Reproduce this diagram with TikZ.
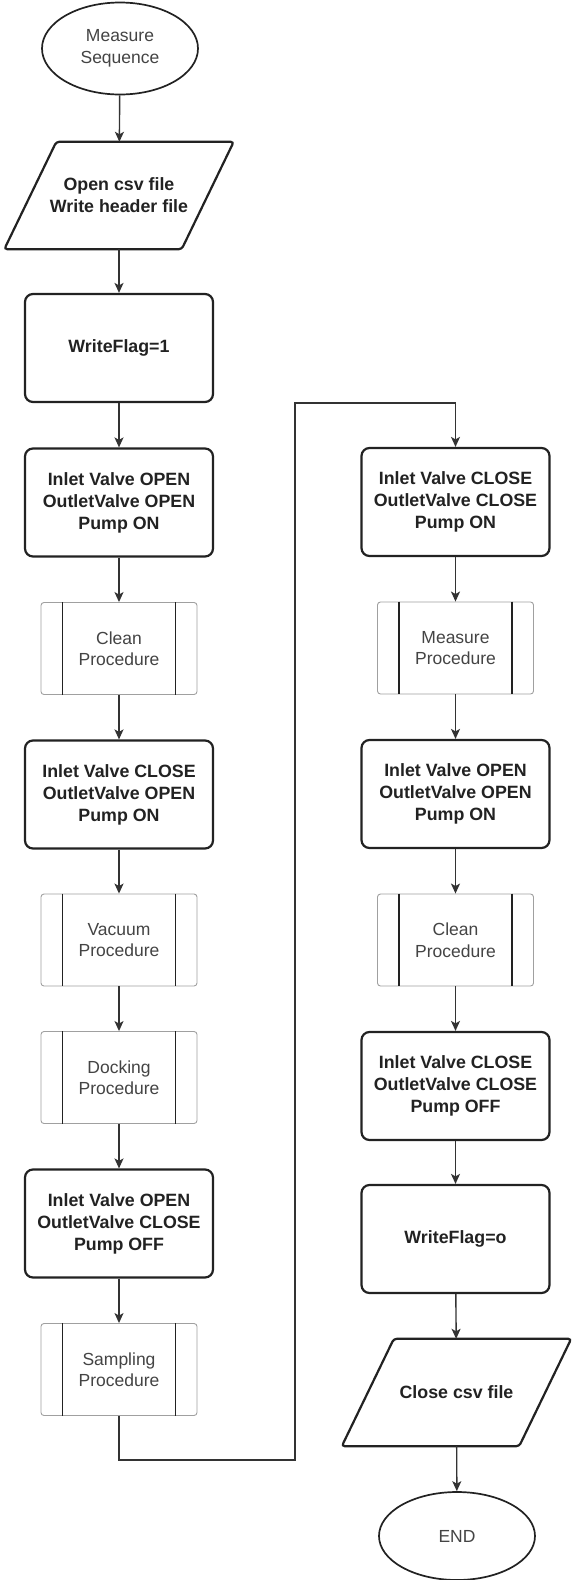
\documentclass[tikz,border=0pt]{standalone}
\usepackage{fontspec}
\setmainfont{Liberation Sans}
\usetikzlibrary{shapes.geometric,arrows.meta,calc}
\definecolor{ink}{HTML}{222222}
\definecolor{lineg}{HTML}{333333}
\definecolor{subg}{HTML}{A0A0A0}
\definecolor{subtxt}{HTML}{444444}
\newcommand\subedges[1]{%
  \draw[subline] ($(#1.north west)+(22,0)$) -- ($(#1.south west)+(22,0)$);
  \draw[subline] ($(#1.north east)+(-22,0)$) -- ($(#1.south east)+(-22,0)$);}
\newcommand\ioshape[1]{%
  \draw[ioline] ($(#1.north west)+(26,0)$) -- ($(#1.north east)+(26,0)$) -- ($(#1.south east)+(-26,0)$) -- ($(#1.south west)+(-26,0)$) -- cycle;}
\begin{document}
\begin{tikzpicture}[x=1pt,y=-1pt,
  every node/.style={font=\fontsize{17.5}{21.5}\selectfont, align=center, inner sep=0pt},
  procbox/.style={draw=ink, line width=2.2pt, rounded corners=8pt, minimum width=188pt, minimum height=108pt, text=ink, font=\bfseries\fontsize{17.8}{22}\selectfont},
  subbox/.style={draw=subg, line width=0.9pt, rounded corners=3pt, minimum width=156pt, minimum height=92pt, text=subtxt},
  term/.style={draw=ink, line width=1.7pt, ellipse, minimum width=156pt, minimum height=92pt, text=subtxt},
  iobox/.style={minimum width=177pt, minimum height=107pt, text=ink, font=\bfseries\fontsize{17.8}{22}\selectfont},
  conn/.style={draw=lineg, line width=1.4pt, -{Stealth[length=10pt,width=9pt,inset=2.5pt]}},
  subline/.style={draw=ink, line width=1.6pt},
  ioline/.style={draw=ink, line width=2.2pt, rounded corners=3pt}
]
\useasboundingbox[fill=white] (0,0) rectangle (571,1580);

% left column
\node[term] (ms) at (120,48.5) {Measure\\Sequence};
\node[iobox] (pg1) at (119,195.5) {Open csv file\\Write header file};
\ioshape{pg1}
\node[procbox] (wf1) at (119,348) {WriteFlag=1};
\node[procbox] (b1) at (119,502.5) {Inlet Valve OPEN\\OutletValve OPEN\\Pump ON};
\node[subbox] (cl1) at (119,648.5) {Clean\\Procedure};
\subedges{cl1}
\node[procbox] (b2) at (119,794.5) {Inlet Valve CLOSE\\OutletValve OPEN\\Pump ON};
\node[subbox] (vac) at (119,940) {Vacuum\\Procedure};
\subedges{vac}
\node[subbox] (dock) at (119,1077.5) {Docking\\Procedure};
\subedges{dock}
\node[procbox] (b3) at (119,1223.5) {Inlet Valve OPEN\\OutletValve CLOSE\\Pump OFF};
\node[subbox] (samp) at (119,1369.5) {Sampling\\Procedure};
\subedges{samp}

% right column
\node[procbox] (b4) at (455.5,502) {Inlet Valve CLOSE\\OutletValve CLOSE\\Pump ON};
\node[subbox] (meas) at (455.5,648) {Measure\\Procedure};
\subedges{meas}
\node[procbox] (b5) at (455.5,794) {Inlet Valve OPEN\\OutletValve OPEN\\Pump ON};
\node[subbox] (cl2) at (455.5,940) {Clean\\Procedure};
\subedges{cl2}
\node[procbox] (b6) at (455.5,1086) {Inlet Valve CLOSE\\OutletValve CLOSE\\Pump OFF};
\node[procbox] (wf0) at (455.5,1239) {WriteFlag=o};
\node[iobox] (pg2) at (456.5,1392.5) {Close csv file};
\ioshape{pg2}
\node[term, minimum height=88pt] (endn) at (457,1536) {END};

% connectors
\draw[conn] (ms) -- (pg1);
\draw[conn] (pg1) -- (wf1);
\draw[conn] (wf1) -- (b1);
\draw[conn] (b1) -- (cl1);
\draw[conn] (cl1) -- (b2);
\draw[conn] (b2) -- (vac);
\draw[conn] (vac) -- (dock);
\draw[conn] (dock) -- (b3);
\draw[conn] (b3) -- (samp);
\coordinate (c1) at (295,1460);
\coordinate (c2) at (295,403);
\draw[conn] (samp.south) |- (c1) -- (c2) -| (b4.north);
\draw[conn] (b4) -- (meas);
\draw[conn] (meas) -- (b5);
\draw[conn] (b5) -- (cl2);
\draw[conn] (cl2) -- (b6);
\draw[conn] (b6) -- (wf0);
\draw[conn] (wf0) -- (pg2);
\draw[conn] (pg2) -- (endn);
\end{tikzpicture}
\end{document}
